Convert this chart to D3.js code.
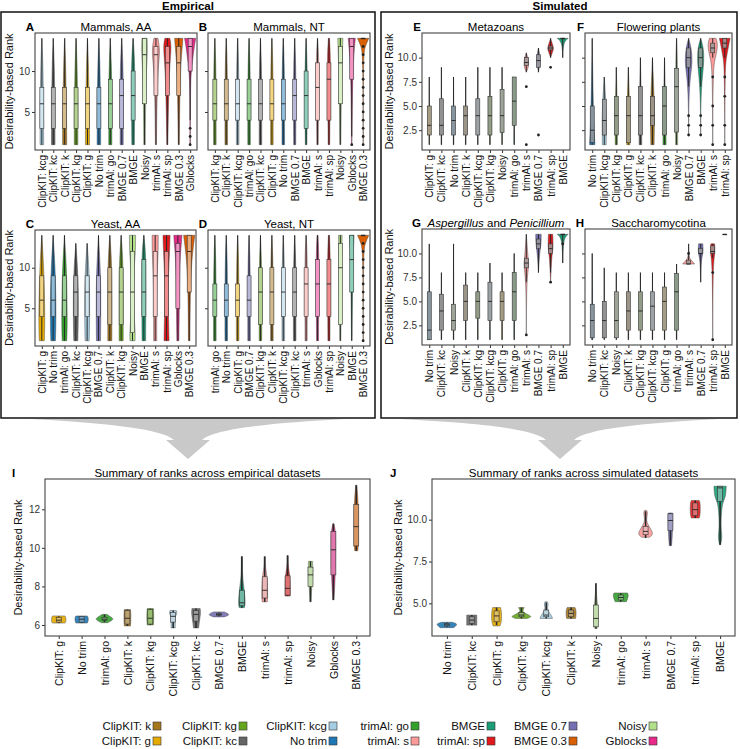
<!DOCTYPE html>
<html>
<head>
<meta charset="utf-8">
<script src="https://cdn.jsdelivr.net/npm/d3@7"></script>
<style>
body { margin: 0; background: #fff; }
text { font-family: "Liberation Sans", Arial, sans-serif; }
</style>
</head>
<body>
<script>
const W = 740, H = 749;

// ---- data: categories, box stats [lo, q1, med, q3, hi], outliers, violin profile [rank, rel. half width]
const mamAA_cats = ["ClipKIT: kcg","ClipKIT: kc","ClipKIT: k","ClipKIT: kg","ClipKIT: g","No trim","trimAl: go","BMGE 0.7","BMGE","Noisy","trimAl: s","trimAl: sp","BMGE 0.3","Gblocks"];
const mamAA_box = [[1,3,6,8,14],[1,3,6,8,14],[1,3,6,8,14],[1,3,6,8,14],[1,3,6,8,14],[1,3,6,8,14],[1,3,6,9,14],[1,3,7,9,14],[1,4,7,10,14],[1,6,12,14,14],[1,7,12,13,14],[1,7,11,13,14],[1,7,11,13,14],[4,10,13,14,14]];
const mamAA_out = [[],[],[],[],[],[],[],[],[],[],[],[],[],[3,2,1]];
const mamAA_vio = [
  [[1,.35],[3,.35],[7,.3],[11,.2],[14,0]],[[1,.35],[3,.35],[7,.3],[11,.2],[14,0]],[[1,.4],[3,.4],[7,.3],[11,.2],[14,0]],
  [[1,.35],[3,.35],[7,.3],[11,.2],[14,0]],[[1,.4],[3,.4],[7,.3],[11,.2],[14,0]],[[1,.35],[3,.35],[7,.3],[11,.2],[14,0]],
  [[1,.3],[4,.3],[8,.3],[11,.2],[14,0]],[[1,.3],[4,.3],[8,.3],[11,.25],[14,0]],[[1,.25],[5,.3],[9,.35],[12,.25],[14,0]],
  [[1,.15],[6,.2],[10,.35],[12.5,.6],[14,.5]],[[1,.1],[7,.2],[11,.5],[12.5,.8],[14,.4]],[[1,.1],[7,.25],[11,.5],[13,.8],[14,.5]],
  [[1,.1],[7,.2],[11,.4],[13,.7],[14,.8]],[[1,.05],[8,.05],[10,.2],[13,.8],[14,1.1]]];

const mamNT_cats = ["ClipKIT: kg","ClipKIT: k","ClipKIT: kcg","trimAl: go","ClipKIT: kc","ClipKIT: g","No trim","BMGE 0.7","BMGE","trimAl: s","trimAl: sp","Noisy","Gblocks","BMGE 0.3"];
const mamNT_box = [[1,4,6,9,14],[1,4,6,9,14],[1,4,6,9,14],[1,4,6,9,14],[1,4,6,9,14],[1,4,6,9,14],[1,4,6,9,14],[1,4,7,9,14],[1,3,7,10,14],[1,4,8,11,14],[1,4,9,11,14],[1,6,11,13,14],[2,9,13,14,14],[14,14,14,14,14]];
const mamNT_out = [[],[],[],[],[],[],[],[],[],[],[],[],[1],[1,2,3,4,5,6,7,8,9,10,11,12,13]];
const mamNT_vio = [
  [[1,.25],[6,.25],[11,.2],[14,0]],[[1,.25],[6,.25],[11,.2],[14,0]],[[1,.25],[6,.25],[11,.2],[14,0]],
  [[1,.25],[6,.25],[11,.2],[14,0]],[[1,.25],[6,.25],[11,.2],[14,0]],[[1,.25],[6,.25],[11,.2],[14,0]],
  [[1,.25],[6,.25],[11,.2],[14,0]],[[1,.2],[7,.25],[11,.2],[14,0]],[[1,.15],[7,.25],[11,.2],[14,0]],
  [[1,.15],[8,.25],[12,.25],[14,0]],[[1,.15],[9,.25],[12,.3],[14,.1]],[[1,.1],[8,.2],[12,.4],[14,.5]],
  [[1,.05],[9,.15],[12,.4],[14,.7]],[[1,.03],[12,.03],[13,.4],[14,1.1]]];

const yeaAA_cats = ["ClipKIT: g","No trim","trimAl: go","ClipKIT: kc","ClipKIT: kcg","BMGE 0.7","ClipKIT: k","ClipKIT: kg","Noisy","BMGE","trimAl: s","trimAl: sp","Gblocks","BMGE 0.3"];
const yeaAA_box = [[1,4,6,9,14],[1,4,6,9,14],[1,4,6,9,14],[1,4,7,9,13],[1,4,7,9,13],[1,4,7,9,14],[1,3,7,10,14],[1,3,7,10,14],[1,2,7,12,14],[1,4,7,11,14],[1,4,9,12,14],[1,4,9,12,14],[1,5,12,13,14],[1,7,12,14,14]];
const yeaAA_out = [[],[],[],[],[],[],[],[],[],[],[],[],[],[]];
const yeaAA_vio = [
  [[1,.5],[3,.6],[6,.55],[10,.4],[14,0]],[[1,.45],[3,.55],[6,.55],[10,.4],[14,0]],[[1,.45],[3,.55],[6,.5],[10,.4],[14,0]],
  [[1,.4],[4,.5],[7,.5],[10,.35],[13,0]],[[1,.4],[4,.5],[7,.5],[10,.35],[13,0]],[[1,.4],[4,.45],[7,.45],[10,.35],[14,0]],
  [[1,.4],[4,.4],[7,.4],[11,.35],[14,0]],[[1,.4],[4,.4],[7,.4],[11,.35],[14,0]],[[1,.5],[2,.55],[4,.3],[7,.2],[10,.3],[12,.6],[14,.6]],
  [[1,.35],[5,.4],[9,.4],[12,.35],[14,0]],[[1,.3],[5,.3],[9,.35],[12,.6],[14,.6]],[[1,.5],[4,.4],[8,.3],[12,.6],[14,.7]],
  [[1,.2],[6,.3],[11,.4],[13,.7],[14,.8]],[[1,.15],[7,.2],[11,.5],[13,.9],[14,1.1]]];

const yeaNT_cats = ["trimAl: go","No trim","ClipKIT: g","BMGE 0.7","ClipKIT: kg","ClipKIT: k","ClipKIT: kcg","ClipKIT: kc","trimAl: s","Gblocks","trimAl: sp","Noisy","BMGE","BMGE 0.3"];
const yeaNT_box = [[1,4,6,8,14],[1,4,6,8,14],[1,4,6,8,14],[1,4,6,9,14],[1,3,7,10,14],[1,3,7,10,14],[1,4,7,10,14],[1,4,7,10,14],[1,4,8,10,14],[1,4,8,11,14],[1,4,8,11,14],[1,3,10,13,14],[1,7,11,14,14],[14,14,14,14,14]];
const yeaNT_out = [[],[],[],[],[],[],[],[],[],[],[],[],[],[1,2,3,4,5,6,7,8,9,10,11,12,13]];
const yeaNT_vio = [
  [[1,.25],[6,.25],[11,.2],[14,0]],[[1,.25],[6,.25],[11,.2],[14,0]],[[1,.25],[6,.25],[11,.2],[14,0]],
  [[1,.25],[6,.25],[11,.2],[14,0]],[[1,.25],[7,.25],[11,.2],[14,0]],[[1,.25],[7,.25],[11,.2],[14,0]],
  [[1,.25],[7,.25],[11,.2],[14,0]],[[1,.25],[7,.25],[11,.2],[14,0]],[[1,.2],[8,.25],[12,.2],[14,0]],
  [[1,.2],[8,.25],[12,.25],[14,.1]],[[1,.2],[8,.25],[12,.25],[14,.1]],[[1,.1],[8,.2],[12,.3],[14,.35]],
  [[1,.05],[8,.15],[12,.3],[14,.45]],[[1,.03],[12,.03],[13,.4],[14,1.1]]];

const meta_cats = ["ClipKIT: g","ClipKIT: kc","No trim","ClipKIT: k","ClipKIT: kcg","ClipKIT: kg","Noisy","trimAl: go","trimAl: s","BMGE 0.7","trimAl: sp","BMGE"];
const meta_box = [[1,2,3,5,8],[1,2,3,5.75,9],[1,2,3.5,5,8],[1,2,4,5,8],[1,2,4,5.75,9],[1,2,4,6,9],[1,2.25,4,6.7,9],[1,3,5.5,8,8],[8.5,9.2,9.5,10,10.5],[8.5,9,9.7,10.3,11],[10,10.8,11,11.2,12],[10,12,12,12,12]];
const meta_out = [[],[],[],[],[],[],[],[],[7,1],[2],[9],[]];
const meta_vio = [
  [[1,.05],[8,0]],[[1,.05],[9,0]],[[1,.05],[8,0]],[[1,.05],[8,0]],[[1,.05],[9,0]],[[1,.05],[9,0]],[[1,.05],[9,0]],[[1,.05],[8,0]],
  [[8.5,0],[9,.4],[9.5,.45],[10,.3],[10.5,0]],[[8.5,0],[9.5,.3],[10.5,.2],[11,0]],[[10,0],[10.8,.5],[11,.55],[11.3,.4],[12,0]],[[10,0],[11.6,.1],[12,1]]];

const plant_cats = ["No trim","ClipKIT: kcg","ClipKIT: kg","ClipKIT: g","ClipKIT: kc","ClipKIT: k","trimAl: go","Noisy","BMGE 0.7","BMGE","trimAl: s","trimAl: sp"];
const plant_box = [[1,1.2,2.5,5,12],[1,2,3.5,5.7,8],[1,2,4,6,9],[1,1.2,4,6,9],[1,2,4,7,10],[1,3,4,6,10],[1,2,5,7,10],[1,2.3,7,8.9,12],[7,9,10,11,12],[7,9,10,11,12],[10,10.5,11,11.5,12],[10,11,11.5,12,12]];
const plant_out = [[],[],[],[],[],[],[],[],[4,3,2],[4,3,2],[8,5,3,1],[8,6,3,1]];
const plant_vio = [
  [[1,.5],[2,.4],[4,.25],[8,.1],[12,0]],[[1,.35],[3,.4],[5,.35],[8,0]],[[1,.2],[4,.2],[9,0]],[[1,.3],[4,.3],[9,0]],
  [[1,.25],[5,.2],[10,0]],[[1,.3],[4,.4],[6,.3],[10,0]],[[1,.3],[5,.2],[10,0]],[[1,.2],[6,.2],[10,.15],[12,0]],
  [[2,0],[6,.05],[8,.3],[9.5,.7],[11,.5],[12,0]],[[2,0],[6,.05],[8,.3],[9.5,.6],[11,.55],[12,0]],
  [[1,0],[9,.05],[10,.5],[11.3,1],[12,.6]],[[1,0],[9,.05],[10,.3],[11.5,.8],[12,1]]];

const asp_cats = ["No trim","ClipKIT: kc","Noisy","ClipKIT: k","ClipKIT: kg","ClipKIT: kcg","ClipKIT: g","trimAl: go","trimAl: s","BMGE 0.7","trimAl: sp","BMGE"];
const asp_box = [[1,1,2,6,11],[1,2,4,5.75,8],[1,2,3,4.7,11],[1,3,5,6.7,8],[1,3.25,5,6,8],[1,3,5,7,9],[1,3,5,6,8],[1,3,6,8,10],[7,8.5,9,9.5,12],[8,10.5,11,11.5,12],[8,10,10.5,11,12],[9,12,12,12,12]];
const asp_out = [[],[],[],[],[],[],[],[],[1.5],[],[7],[11]];
const asp_vio = [
  [[1,.08],[11,0]],[[1,.05],[8,0]],[[1,.05],[11,0]],[[1,.05],[8,0]],[[1,.05],[8,0]],[[1,.05],[9,0]],[[1,.05],[8,0]],[[1,.05],[10,0]],
  [[1.5,0],[7,.05],[8.5,.4],[9,.45],[9.6,.3],[12,0]],[[8,0],[10,.2],[11,.5],[12,.5]],[[7,0],[9.8,.2],[10.5,.5],[12,.4]],[[9,0],[11.6,.1],[12,1]]];

const sac_cats = ["No trim","ClipKIT: kc","Noisy","ClipKIT: k","ClipKIT: kg","ClipKIT: kcg","ClipKIT: g","trimAl: go","trimAl: s","BMGE 0.7","trimAl: sp","BMGE"];
const sac_box = [[1,1.2,3,4.7,10],[1,1.2,3,5,8.5],[1,1.2,3,6,8],[1,2,4,6,8],[1,2,4,6,8],[1,2,4.5,6,8],[1,2,5,6.5,8],[1,2,6,7.9,8.9],[8.9,8.9,8.9,9.3,11],[7,10,10,10.5,11],[9.5,10,10.2,10.8,11],[12,12,12,12,12]];
const sac_out = [[],[],[],[],[],[],[],[],[10],[],[8,1],[]];
const sac_vio = [
  [[1,.1],[10,0]],[[1,.05],[8.5,0]],[[1,.05],[8,0]],[[1,.05],[8,0]],[[1,.05],[8,0]],[[1,.05],[8,0]],[[1,.05],[8,0]],[[1,.05],[8.9,0]],
  [[8.9,1.1],[9.3,.5],[9.55,.05],[11,0]],[[7,0],[9.5,.1],[10,.5],[11,.4]],[[1,0],[9,.05],[9.8,.4],[10.5,.4],[11,.35]],[]];

const sumEmp_cats = ["ClipKIT: g","No trim","trimAl: go","ClipKIT: k","ClipKIT: kg","ClipKIT: kcg","ClipKIT: kc","BMGE 0.7","BMGE","trimAl: s","trimAl: sp","Noisy","Gblocks","BMGE 0.3"];
const sumEmp_box = [[6.1,6.15,6.25,6.4,6.45],[6.1,6.15,6.3,6.45,6.47],[6.15,6.25,6.3,6.4,6.55],[5.95,6.05,6.35,6.75,6.8],[6.0,6.05,6.35,6.8,6.85],[5.85,6.15,6.45,6.65,6.75],[5.85,6.2,6.55,6.75,6.85],[6.45,6.5,6.55,6.6,6.65],[6.9,7.0,7.15,7.8,9.55],[7.2,7.4,7.8,8.5,9.55],[7.5,7.55,7.9,8.55,9.6],[7.2,8.0,8.6,9.0,9.3],[7.3,8.6,9.9,10.85,11.25],[9.85,10.1,11.1,12.25,13.25]];
const sumEmp_vio = [
  [[6.1,.6],[6.15,.7],[6.4,.7],[6.47,.6]],[[6.1,.55],[6.2,.65],[6.4,.65],[6.47,.55]],[[6.12,.3],[6.3,1],[6.45,.5],[6.55,.25]],
  [[5.95,.3],[6.4,.35],[6.8,.3]],[[6.0,.3],[6.4,.35],[6.85,.3]],[[5.85,.2],[6.2,.2],[6.4,.15],[6.6,.4],[6.75,.3]],
  [[5.85,.25],[6.3,.35],[6.6,.45],[6.85,.4]],[[6.42,.5],[6.5,1.0],[6.6,.9],[6.68,.5]],[[6.9,.25],[7.1,.35],[7.8,.25],[8.5,.05],[9.55,.05]],
  [[7.2,.25],[7.5,.3],[8.5,.25],[9,.05],[9.55,.05]],[[7.5,.25],[7.9,.25],[8.5,.25],[9,.05],[9.6,.05]],[[7.2,.05],[7.9,.1],[8.5,.25],[9.3,.2]],
  [[7.3,.05],[8.6,.2],[10,.22],[10.85,.22],[11.25,.05]],[[9.85,.15],[10.1,.22],[12.25,.22],[13.25,.05]]];

const sumSim_cats = ["No trim","ClipKIT: kc","ClipKIT: g","ClipKIT: kg","ClipKIT: kcg","ClipKIT: k","Noisy","trimAl: go","trimAl: s","BMGE 0.7","trimAl: sp","BMGE"];
const sumSim_box = [[3.6,3.65,3.72,3.8,3.85],[3.7,3.8,4.0,4.2,4.3],[3.7,3.9,4.25,4.55,4.75],[4.1,4.2,4.3,4.45,4.75],[4.1,4.2,4.3,4.6,5.05],[4.1,4.2,4.4,4.6,4.75],[3.5,3.6,4.1,4.9,6.2],[5.1,5.2,5.35,5.5,5.6],[8.9,9.1,9.3,9.6,10.5],[8.45,9.35,9.95,10.35,10.4],[10.1,10.25,10.6,11.0,11.15],[8.5,11.1,11.9,12.0,12.0]];
const sumSim_vio = [
  [[3.55,.6],[3.7,.9],[3.8,.85],[3.87,.5]],[[3.7,.45],[4.3,.45]],[[3.65,.3],[3.9,.45],[4.5,.45],[4.75,.35]],
  [[4.1,.5],[4.2,1.0],[4.35,.5],[4.5,.1],[4.6,.15],[4.75,.25]],[[4.1,.55],[4.25,.5],[4.55,.15],[4.75,.1],[4.95,.2],[5.1,.1]],
  [[4.1,.4],[4.3,.45],[4.6,.45],[4.75,.35]],[[3.5,.1],[4,.2],[4.9,.15],[5.5,.05],[6.2,0]],[[5.1,.5],[5.25,.6],[5.5,.7],[5.62,.6]],
  [[8.95,.35],[9.1,.65],[9.3,.6],[9.7,.2],[10,.05],[10.4,.2],[10.55,.1]],[[8.45,.1],[9.3,.2],[10.4,.2]],
  [[10.1,.35],[10.3,.45],[11,.45],[11.15,.35]],[[8.5,.05],[9,.2],[9.5,.05],[11,.15],[11.3,.5],[12,.55]]];

const legendOrder = ["ClipKIT: k","ClipKIT: g","ClipKIT: kg","ClipKIT: kc","ClipKIT: kcg","No trim","trimAl: go","trimAl: s","BMGE","trimAl: sp","BMGE 0.7","BMGE 0.3","Noisy","Gblocks"];

const methodColors = {
  "ClipKIT: k": "#a6761d", "ClipKIT: g": "#e6ab02", "ClipKIT: kg": "#66a61e", "ClipKIT: kc": "#666666",
  "ClipKIT: kcg": "#a6cee3", "No trim": "#1f78b4", "trimAl: go": "#33a02c", "trimAl: s": "#fb9a99",
  "BMGE": "#1b9e77", "trimAl: sp": "#e31a1c", "BMGE 0.7": "#7570b3", "BMGE 0.3": "#d95f02",
  "Noisy": "#b2df8a", "Gblocks": "#e7298a"
};

const svg = d3.select("body").append("svg")
    .attr("width", W)
    .attr("height", H)
    .style("background-color", "#fff");

// group boxes + headings
svg.append("rect").attr("x", 1).attr("y", 12).attr("width", 374).attr("height", 406)
    .attr("fill", "none").attr("stroke", "#111").attr("stroke-width", 1.5);
svg.append("rect").attr("x", 381).attr("y", 12).attr("width", 356).attr("height", 406)
    .attr("fill", "none").attr("stroke", "#111").attr("stroke-width", 1.5);
svg.append("text").attr("x", 188).attr("y", 9.5).attr("text-anchor", "middle")
    .attr("font-size", 11.5).attr("font-weight", "bold").text("Empirical");
svg.append("text").attr("x", 560).attr("y", 9.5).attr("text-anchor", "middle")
    .attr("font-size", 11.5).attr("font-weight", "bold").text("Simulated");

// funnel arrows
function funnel(xl, xr, cx) {
  const yt = 419;
  const p = d3.path();
  p.moveTo(xl, yt);
  p.lineTo(xr, yt);
  p.bezierCurveTo(cx + 80, yt + 4, cx + 26, yt + 10, cx + 14, yt + 21);
  p.lineTo(cx + 22, yt + 21);
  p.lineTo(cx, yt + 40);
  p.lineTo(cx - 22, yt + 21);
  p.lineTo(cx - 14, yt + 21);
  p.bezierCurveTo(cx - 26, yt + 10, cx - 80, yt + 4, xl, yt);
  p.closePath();
  svg.append("path").attr("d", p.toString()).attr("fill", "#c9c9c9");
}
funnel(30, 346, 188);
funnel(400, 720, 560);

function drawPanel(p) {
  const g = svg.append("g");
  const x = d3.scalePoint().domain(p.cats).range([p.x0, p.x1]).padding(0.6);
  const y = d3.scaleLinear().domain(p.dom).range([p.y1, p.y0]);
  const hw = 0.45 * x.step();

  // axes
  const ya = g.append("g").attr("transform", `translate(${p.x0},0)`)
      .call(d3.axisLeft(y).tickValues(p.ticks).tickSize(3).tickPadding(2)
        .tickFormat(p.showY ? d3.format(p.fmt) : ""));
  ya.select(".domain").remove();
  ya.selectAll("line").attr("stroke", "#333");
  ya.selectAll("text").attr("font-size", 10).attr("fill", "#333")
      .style("font-family", "'Liberation Sans', Arial, sans-serif");

  const xa = g.append("g").attr("transform", `translate(0,${p.y1})`)
      .call(d3.axisBottom(x).tickSize(3).tickPadding(2));
  xa.select(".domain").remove();
  xa.selectAll("line").attr("stroke", "#333");
  xa.selectAll("text").attr("font-size", p.xfs).attr("fill", "#111")
      .style("font-family", "'Liberation Sans', Arial, sans-serif")
      .attr("transform", "rotate(-90)")
      .attr("text-anchor", "end").attr("x", -5).attr("y", 0).attr("dy", "0.35em");

  const area = d3.area().curve(d3.curveBasis).y(d => y(d[0]));

  p.cats.forEach((c, i) => {
    const cx = x(c);
    const col = methodColors[c];
    const v = p.vio[i];
    if (v && v.length > 1) {
      area.x0(d => cx - d[1] * hw).x1(d => cx + d[1] * hw);
      g.append("path").attr("d", area(v)).attr("fill", col)
          .attr("fill-opacity", p.vop).attr("stroke", "#444").attr("stroke-width", 0.45);
    }
    const b = p.box[i];
    // whiskers
    g.append("line").attr("x1", cx).attr("x2", cx).attr("y1", y(b[4])).attr("y2", y(b[3]))
        .attr("stroke", "#2a2a2a").attr("stroke-width", p.wsw);
    g.append("line").attr("x1", cx).attr("x2", cx).attr("y1", y(b[1])).attr("y2", y(b[0]))
        .attr("stroke", "#2a2a2a").attr("stroke-width", p.wsw);
    // box
    g.append("rect").attr("x", cx - p.bw).attr("width", 2 * p.bw)
        .attr("y", y(b[3])).attr("height", Math.max(0.6, y(b[1]) - y(b[3])))
        .attr("fill", d3.interpolateRgb(col, p.mix)(p.mixT))
        .attr("stroke", "#333").attr("stroke-width", 0.6);
    g.append("line").attr("x1", cx - p.bw).attr("x2", cx + p.bw).attr("y1", y(b[2])).attr("y2", y(b[2]))
        .attr("stroke", "#222").attr("stroke-width", 0.9);
    // outliers
    (p.out ? p.out[i] : []).forEach(o => {
      g.append("circle").attr("cx", cx).attr("cy", y(o)).attr("r", 1.4).attr("fill", "#222");
    });
  });

  // frame
  g.append("rect").attr("x", p.x0).attr("y", p.y0).attr("width", p.x1 - p.x0).attr("height", p.y1 - p.y0)
      .attr("fill", "none").attr("stroke", "#444").attr("stroke-width", 1.1);

  // title + letter
  const t = g.append("text").attr("x", (p.x0 + p.x1) / 2).attr("y", p.y0 - 2.5)
      .attr("text-anchor", "middle").attr("font-size", p.tfs);
  if (p.title === "ASP") {
    t.append("tspan").attr("font-style", "italic").text("Aspergillus");
    t.append("tspan").text(" and ");
    t.append("tspan").attr("font-style", "italic").text("Penicillium");
  } else {
    t.text(p.title);
  }
  g.append("text").attr("x", p.lx).attr("y", p.y0 - 2.5).attr("text-anchor", p.lanchor)
      .attr("font-size", 11.5).attr("font-weight", "bold").text(p.letter);

  if (p.ylab) {
    g.append("text").attr("transform", `translate(${p.ylab},${(p.y0 + p.y1) / 2}) rotate(-90)`)
        .attr("text-anchor", "middle").attr("font-size", 11).attr("fill", "#111")
        .text("Desirability-based Rank");
  }
}

const empDom = [0.35, 14.65], simDom = [0.45, 12.55];
const emp = { dom: empDom, ticks: [5, 10], fmt: "d", xfs: 10, tfs: 11.5, bw: 2, wsw: 1, vop: 1, mix: "#ffffff", mixT: 0.5, lanchor: "end" };
const sim = { dom: simDom, ticks: [2.5, 5, 7.5, 10], fmt: ".1f", xfs: 10, tfs: 11.5, bw: 2, wsw: 1, vop: 1, mix: "#9a9a9a", mixT: 0.85, lanchor: "end" };

const panels = [
  Object.assign({}, emp, { letter: "A", title: "Mammals, AA", cats: mamAA_cats, box: mamAA_box, out: mamAA_out, vio: mamAA_vio, x0: 35, x1: 197, y0: 33, y1: 150, showY: true, ylab: 13, lx: 34 }),
  Object.assign({}, emp, { letter: "B", title: "Mammals, NT", cats: mamNT_cats, box: mamNT_box, out: mamNT_out, vio: mamNT_vio, x0: 208, x1: 370, y0: 33, y1: 150, showY: false, lx: 207 }),
  Object.assign({}, emp, { letter: "C", title: "Yeast, AA", cats: yeaAA_cats, box: yeaAA_box, out: yeaAA_out, vio: yeaAA_vio, x0: 35, x1: 196, y0: 230, y1: 346, showY: true, ylab: 13, lx: 34 }),
  Object.assign({}, emp, { letter: "D", title: "Yeast, NT", cats: yeaNT_cats, box: yeaNT_box, out: yeaNT_out, vio: yeaNT_vio, x0: 208, x1: 370, y0: 230, y1: 346, showY: false, lx: 207 }),
  Object.assign({}, sim, { letter: "E", title: "Metazoans", cats: meta_cats, box: meta_box, out: meta_out, vio: meta_vio, x0: 422, x1: 570, y0: 33, y1: 150, showY: true, ylab: 393, lx: 421 }),
  Object.assign({}, sim, { letter: "F", title: "Flowering plants", cats: plant_cats, box: plant_box, out: plant_out, vio: plant_vio, x0: 585, x1: 732, y0: 33, y1: 150, showY: false, lx: 584 }),
  Object.assign({}, sim, { letter: "G", title: "ASP", cats: asp_cats, box: asp_box, out: asp_out, vio: asp_vio, x0: 422, x1: 570, y0: 229, y1: 345, showY: true, ylab: 393, lx: 421 }),
  Object.assign({}, sim, { letter: "H", title: "Saccharomycotina", cats: sac_cats, box: sac_box, out: sac_out, vio: sac_vio, x0: 585, x1: 732, y0: 229, y1: 345, showY: false, lx: 584 }),
  { letter: "I", title: "Summary of ranks across empirical datasets", cats: sumEmp_cats, box: sumEmp_box, vio: sumEmp_vio,
    x0: 45, x1: 370, y0: 479, y1: 636, dom: [5.43, 13.57], ticks: [6, 8, 10, 12], fmt: "d", showY: true, ylab: 22,
    xfs: 10.5, tfs: 11.5, bw: 2.5, wsw: 1.6, vop: 0.9, mix: "#d8d8d8", mixT: 0.45, lx: 12, lanchor: "start" },
  { letter: "J", title: "Summary of ranks across simulated datasets", cats: sumSim_cats, box: sumSim_box, vio: sumSim_vio,
    x0: 432, x1: 735, y0: 479, y1: 636, dom: [3.05, 12.43], ticks: [5, 7.5, 10], fmt: ".1f", showY: true, ylab: 402,
    xfs: 10.5, tfs: 11.5, bw: 2.5, wsw: 1.6, vop: 0.9, mix: "#d8d8d8", mixT: 0.45, lx: 390, lanchor: "start" }
];
panels.forEach(drawPanel);

// legend, 7 columns x 2 rows
const legX = [153, 239, 329, 411, 487, 569, 649];
const legY = [726, 741];
const leg = svg.append("g");
legendOrder.forEach((m, i) => {
  const cx = legX[Math.floor(i / 2)], cy = legY[i % 2];
  leg.append("rect").attr("x", cx).attr("y", cy - 4).attr("width", 8).attr("height", 8)
      .attr("fill", methodColors[m]).attr("stroke", "#333").attr("stroke-width", 0.6);
  leg.append("text").attr("x", cx - 2).attr("y", cy).attr("dy", "0.35em")
      .attr("text-anchor", "end").attr("font-size", 11.5).attr("fill", "#111").text(m);
});
</script>
</body>
</html>
